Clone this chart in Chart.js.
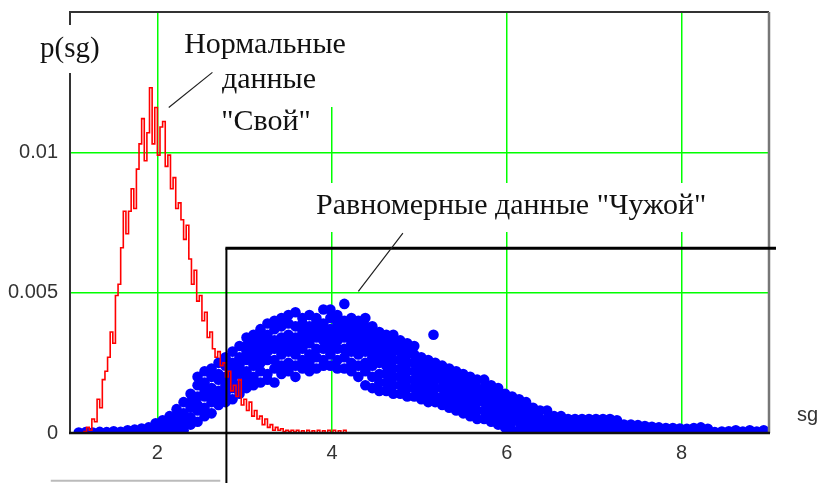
<!DOCTYPE html>
<html>
<head>
<meta charset="utf-8">
<script src="https://cdn.jsdelivr.net/npm/chart.js@4"></script>
<style>
  html, body { margin: 0; padding: 0; background: #fff; }
  #wrap { width: 820px; height: 483px; }
</style>
</head>
<body>
<div id="wrap"><canvas id="sgChart" width="820" height="483"></canvas></div>
<script>
// ticks
const xTicks = [2, 4, 6, 8];
const yTicks = [0, 0.005, 0.01];
const yTickLabels = ['0', '0.005', '0.01'];

// "Свой" - normal data (red line)
const redX = [
  1.10, 1.13, 1.16, 1.19, 1.22, 1.25, 1.28, 1.31, 1.34, 1.37, 1.40, 1.43, 1.46, 1.49, 1.52,
  1.55, 1.58, 1.61, 1.64, 1.67, 1.70, 1.73, 1.76, 1.79, 1.82, 1.85, 1.88, 1.91, 1.94, 1.97,
  2.00, 2.03, 2.06, 2.09, 2.12, 2.15, 2.18, 2.21, 2.24, 2.27, 2.30, 2.33, 2.36, 2.39, 2.42,
  2.45, 2.48, 2.51, 2.54, 2.57, 2.60, 2.63, 2.66, 2.69, 2.72, 2.75, 2.78, 2.81, 2.84, 2.87,
  2.90, 2.93, 2.96, 2.99, 3.02, 3.05, 3.08, 3.11, 3.14, 3.17, 3.20, 3.23, 3.26, 3.29, 3.32,
  3.35, 3.38, 3.41, 3.44, 3.47, 3.50, 3.53, 3.56, 3.59, 3.62, 3.65, 3.68, 3.71, 3.74, 3.77,
  3.80, 3.83, 3.86, 3.89, 3.92, 3.95, 3.98, 4.01, 4.04, 4.07, 4.10, 4.13, 4.16
];
const redY = [
  0, 0, 0.00005, 0.0002, 0.0001, 0.0005, 0.0004, 0.0012, 0.0009, 0.0019, 0.0022, 0.0027, 0.0036, 0.0032, 0.0049,
  0.0053, 0.0066, 0.0079, 0.0071, 0.0079, 0.0087, 0.0080, 0.0094, 0.0103, 0.0112, 0.0097, 0.0107, 0.0123, 0.0103, 0.0116,
  0.0099, 0.0109, 0.0111, 0.0095, 0.0099, 0.0087, 0.0091, 0.0080, 0.0082, 0.0076, 0.0069, 0.0074, 0.0062, 0.0053, 0.0058,
  0.0047, 0.0049, 0.0040, 0.0043, 0.0034, 0.0036, 0.0030, 0.0027, 0.0029, 0.0024, 0.0025, 0.0020, 0.0022, 0.0015, 0.0017,
  0.0013, 0.0019, 0.0010, 0.0012, 0.0008, 0.0011, 0.0006, 0.0008, 0.0005, 0.0006, 0.0003, 0.0005, 0.0002, 0.0003, 0.0001,
  0.0002, 0.0001, 0.00015, 0.00005, 0.0001, 0.00005, 0.0001, 0.00003, 0.0001, 0.00002, 0.00008, 0, 0.0001, 0.00002, 0.00008,
  0, 0.0001, 0, 0.00008, 0, 0.0001, 0, 0.0001, 0, 0.00008, 0, 0.0001, 0
];

// "Чужой" - uniform data (blue points), several values per x column
const blueX = [
  1.10, 1.18, 1.26, 1.34, 1.42, 1.50, 1.58, 1.66, 1.74, 1.82, 1.90, 1.98, 2.06, 2.14, 2.22,
  2.30, 2.38, 2.46, 2.54, 2.62, 2.70, 2.78, 2.86, 2.94, 3.02, 3.10, 3.18, 3.26, 3.34, 3.42,
  3.50, 3.58, 3.66, 3.74, 3.82, 3.90, 3.98, 4.06, 4.14, 4.22, 4.30, 4.38, 4.46, 4.54, 4.62,
  4.70, 4.78, 4.86, 4.94, 5.02, 5.10, 5.16, 5.18, 5.26, 5.34, 5.42, 5.50, 5.58, 5.66, 5.74,
  5.82, 5.90, 5.98, 6.06, 6.14, 6.22, 6.30, 6.38, 6.46, 6.54, 6.62, 6.70, 6.78, 6.86, 6.94,
  7.02, 7.10, 7.18, 7.26, 7.34, 7.42, 7.50, 7.58, 7.66, 7.74, 7.82, 7.90, 7.98, 8.06, 8.14,
  8.22, 8.30, 8.38, 8.46, 8.54, 8.62, 8.70, 8.78, 8.86, 8.94
];
const blueY = [
  [0.00002], [0.00003], [0.00002], [0.00004], [0.00003], [0.00006], [0.00004], [0.0001],
  [0.00005, 0.00012], [0.00008, 0.00016], [0.00004, 0.0002], [0.0001, 0.00035],
  [0.00005, 0.0003, 0.00045], [0.0001, 0.0004, 0.0006], [0.00005, 0.0003, 0.0006, 0.00085],
  [0.0001, 0.0004, 0.0007, 0.0011],
  [0.0003, 0.00055, 0.0009, 0.0011, 0.0014],
  [0.0004, 0.0008, 0.001, 0.0013, 0.0017, 0.002],
  [0.0006, 0.0009, 0.0013, 0.0015, 0.0018, 0.0022],
  [0.0007, 0.0011, 0.0013, 0.0016, 0.002, 0.0023],
  [0.001, 0.0012, 0.0015, 0.0019, 0.0021, 0.0025],
  [0.0011, 0.0014, 0.0017, 0.002, 0.0024, 0.0027],
  [0.0012, 0.0016, 0.0019, 0.0022, 0.0025, 0.0029],
  [0.0014, 0.0017, 0.0021, 0.0024, 0.0027, 0.0031],
  [0.0016, 0.0019, 0.0022, 0.0026, 0.0029, 0.0031, 0.0034],
  [0.0017, 0.002, 0.0024, 0.0027, 0.003, 0.0033, 0.0035],
  [0.0018, 0.0022, 0.0025, 0.0028, 0.0031, 0.0034, 0.0037],
  [0.0019, 0.0021, 0.0026, 0.0029, 0.0032, 0.0035, 0.0039],
  [0.0018, 0.0023, 0.0026, 0.003, 0.0033, 0.0037, 0.004],
  [0.0021, 0.0024, 0.0028, 0.0031, 0.0034, 0.0038, 0.0041],
  [0.0022, 0.0025, 0.0029, 0.0032, 0.0035, 0.0039, 0.0042],
  [0.002, 0.0024, 0.0028, 0.0031, 0.0034, 0.0038, 0.0043],
  [0.0023, 0.0026, 0.003, 0.0033, 0.0036, 0.0039, 0.0041],
  [0.0022, 0.0025, 0.0028, 0.0032, 0.0035, 0.0038, 0.0042],
  [0.0023, 0.0027, 0.003, 0.0034, 0.0037, 0.004, 0.0041],
  [0.0024, 0.0026, 0.003, 0.0033, 0.0036, 0.0039, 0.0044],
  [0.0024, 0.0028, 0.0031, 0.0034, 0.0037, 0.0041, 0.0044],
  [0.0023, 0.0026, 0.003, 0.0033, 0.0036, 0.0039, 0.0042],
  [0.0023, 0.0027, 0.003, 0.0034, 0.0037, 0.004, 0.0046],
  [0.0022, 0.0025, 0.0029, 0.0032, 0.0035, 0.0038, 0.0041],
  [0.002, 0.0024, 0.0028, 0.0031, 0.0034, 0.0037, 0.004],
  [0.0017, 0.0022, 0.0025, 0.0029, 0.0032, 0.0035, 0.0038, 0.0041],
  [0.0016, 0.002, 0.0024, 0.0027, 0.003, 0.0033, 0.0036, 0.0038],
  [0.0015, 0.0018, 0.0021, 0.0025, 0.0028, 0.0031, 0.0034, 0.0036],
  [0.0015, 0.0018, 0.0021, 0.0024, 0.0027, 0.003, 0.0033, 0.0035],
  [0.0014, 0.0017, 0.002, 0.0023, 0.0026, 0.0029, 0.0032, 0.0035],
  [0.0014, 0.0017, 0.002, 0.0023, 0.0026, 0.0029, 0.0031, 0.0033],
  [0.0013, 0.0016, 0.0019, 0.0022, 0.0025, 0.0028, 0.003, 0.0032],
  [0.0013, 0.0016, 0.0019, 0.0022, 0.0025, 0.0028, 0.0031],
  [0.0012, 0.0015, 0.0018, 0.0021, 0.0024, 0.0027],
  [0.0011, 0.0014, 0.0017, 0.002, 0.0023, 0.0026],
  [0.0035],
  [0.0011, 0.0013, 0.0016, 0.0019, 0.0022, 0.0025],
  [0.001, 0.0013, 0.0016, 0.0019, 0.0021, 0.0024],
  [0.0009, 0.0012, 0.0015, 0.0018, 0.002, 0.0023],
  [0.0008, 0.0011, 0.0014, 0.0017, 0.0019, 0.0022],
  [0.0007, 0.001, 0.0013, 0.0016, 0.0018, 0.0021],
  [0.0006, 0.0009, 0.0012, 0.0015, 0.0017, 0.002],
  [0.0005, 0.0008, 0.0011, 0.0014, 0.0016, 0.0019],
  [0.0005, 0.0008, 0.0011, 0.0013, 0.0016, 0.0019],
  [0.0004, 0.0007, 0.001, 0.0012, 0.0015, 0.0017],
  [0.0003, 0.0006, 0.0009, 0.0011, 0.0014, 0.0016],
  [0.0002, 0.0005, 0.0008, 0.001, 0.0012, 0.0014],
  [0.0001, 0.0004, 0.0007, 0.0009, 0.0011, 0.0013],
  [0.0001, 0.0004, 0.0006, 0.0009, 0.0012],
  [0.00005, 0.0003, 0.0005, 0.0008, 0.0011],
  [0.00005, 0.0003, 0.0005, 0.0007, 0.0009],
  [0.00005, 0.0003, 0.0005, 0.0008],
  [0.00005, 0.0003, 0.0005, 0.0008],
  [0.00005, 0.00025, 0.00045, 0.0006], [0.00005, 0.00025, 0.00045, 0.0006], [0.00005, 0.00025, 0.0005],
  [0.00005, 0.00025, 0.0005], [0.00005, 0.00025, 0.0005], [0.00005, 0.00025, 0.0005],
  [0.00005, 0.00025, 0.0005], [0.00005, 0.00025, 0.0005], [0.00005, 0.00025, 0.0005],
  [0.00005, 0.00025, 0.00045],
  [0.00005, 0.0003], [0.00005, 0.0003], [0.00005, 0.00028], [0.00005, 0.00025],
  [0.00005, 0.00022], [0.00005, 0.0002], [0.00005, 0.00018], [0.00005, 0.00018],
  [0.00005, 0.00016], [0.00005, 0.00015], [0.00005, 0.00018], [0.00005, 0.0002],
  [0.00005, 0.00015], [0.00003], [0.00005], [0.00006], [0.00003, 0.0001], [0.00005],
  [0.00003, 0.0001], [0.00005], [0.00003, 0.0001]
];

// threshold marker lines (black) and leader lines to the labels
const markerX = 2.79;
const markerY = 0.00658;

const redData = redX.map((x, i) => ({x: x, y: redY[i]}));
const blueData = [];
blueX.forEach((x, i) => {
  blueY[i].forEach(y => blueData.push({x: x, y: y}));
});

const serif = '"Liberation Serif", "Times New Roman", serif';
const sans = '"Liberation Sans", Arial, sans-serif';

// white boxes behind the text blocks, they cover the grid
const labelBoxes = {
  id: 'labelBoxes',
  beforeDatasetsDraw(chart) {
    const ctx = chart.ctx;
    ctx.save();
    ctx.fillStyle = '#fff';
    ctx.fillRect(180, 13, 172, 94);
    ctx.fillRect(310, 183, 405, 49);
    ctx.restore();
  }
};

const overlay = {
  id: 'overlay',
  afterDatasetsDraw(chart) {
    const ctx = chart.ctx;
    const a = chart.chartArea;
    const xs = chart.scales.x, ys = chart.scales.y;
    const px = v => xs.getPixelForValue(v);
    const py = v => ys.getPixelForValue(v);

    ctx.save();
    // frame
    ctx.lineCap = 'butt';
    ctx.strokeStyle = '#333';
    ctx.lineWidth = 2;
    ctx.beginPath();
    ctx.moveTo(a.left - 1, a.top); ctx.lineTo(a.right, a.top);
    ctx.moveTo(a.left, a.top); ctx.lineTo(a.left, a.top + 13);
    ctx.moveTo(a.left, a.top + 61); ctx.lineTo(a.left, a.bottom);
    ctx.stroke();
    ctx.strokeStyle = '#777';
    ctx.lineWidth = 2.5;
    ctx.beginPath();
    ctx.moveTo(a.right, a.top); ctx.lineTo(a.right, a.bottom);
    ctx.stroke();
    ctx.strokeStyle = '#111';
    ctx.lineWidth = 2.5;
    ctx.beginPath();
    ctx.moveTo(a.left - 1, a.bottom); ctx.lineTo(a.right + 1, a.bottom);
    ctx.stroke();

    // marker lines
    ctx.strokeStyle = '#000';
    ctx.lineWidth = 2;
    ctx.beginPath();
    ctx.moveTo(px(markerX), chart.height);
    ctx.lineTo(px(markerX), py(markerY));
    ctx.stroke();
    ctx.lineWidth = 3;
    ctx.beginPath();
    ctx.moveTo(px(markerX) - 1, py(markerY));
    ctx.lineTo(px(9.08), py(markerY));
    ctx.stroke();
    ctx.strokeStyle = '#bbb';
    ctx.lineWidth = 2;
    ctx.beginPath();
    ctx.moveTo(px(0.78), py(-0.0017));
    ctx.lineTo(px(2.72), py(-0.0017));
    ctx.stroke();

    // leader lines
    ctx.strokeStyle = '#222';
    ctx.lineWidth = 1.2;
    ctx.beginPath();
    ctx.moveTo(px(2.13), py(0.0116)); ctx.lineTo(px(2.63), py(0.01285));
    ctx.moveTo(px(4.30), py(0.00505)); ctx.lineTo(px(4.81), py(0.00712));
    ctx.stroke();

    // texts
    ctx.fillStyle = '#111';
    ctx.textBaseline = 'alphabetic';
    ctx.font = '30px ' + serif;
    ctx.textAlign = 'center';
    ctx.fillText('Нормальные', 265, 53);
    ctx.fillText('данные', 269, 88);
    ctx.fillText('"Свой"', 266, 130);
    ctx.textAlign = 'left';
    ctx.fillText('Равномерные данные "Чужой"', 316, 214);
    ctx.font = '29px ' + serif;
    ctx.fillText('p(sg)', 40, 57);
    ctx.font = '20px ' + sans;
    ctx.fillStyle = '#333';
    ctx.fillText('sg', 797, 421);
    ctx.restore();
  }
};

new Chart(document.getElementById('sgChart').getContext('2d'), {
  type: 'scatter',
  data: {
    datasets: [{
      label: 'Свой',
      data: redData,
      showLine: true,
      stepped: true,
      borderColor: '#ff0000',
      borderWidth: 1.6,
      pointRadius: 0,
      clip: 0
    }, {
      label: 'Чужой',
      data: blueData,
      backgroundColor: '#0000ff',
      borderWidth: 0,
      pointRadius: 5.3,
      clip: 0
    }]
  },
  options: {
    responsive: false,
    animation: false,
    devicePixelRatio: 1,
    layout: {padding: {top: 12, right: 51, left: 0, bottom: 0}},
    plugins: {legend: {display: false}, tooltip: {enabled: false}},
    scales: {
      x: {
        type: 'linear', min: 1, max: 9,
        afterBuildTicks: s => { s.ticks = xTicks.map(v => ({value: v})); },
        afterFit: s => { s.height = 50; s.paddingLeft = 0; s.paddingRight = 0; },
        grid: {color: '#00ff00', lineWidth: 1.5, drawTicks: false},
        border: {display: false},
        ticks: {color: '#333', font: {family: sans, size: 20}, padding: 8}
      },
      y: {
        type: 'linear', min: 0, max: 0.015,
        afterBuildTicks: s => { s.ticks = yTicks.map(v => ({value: v})); },
        afterFit: s => { s.width = 70; s.paddingTop = 0; s.paddingBottom = 0; },
        grid: {color: '#00ff00', lineWidth: 1.5, drawTicks: false},
        border: {display: false},
        ticks: {
          color: '#333', font: {family: sans, size: 20}, padding: 12,
          callback: (v) => yTickLabels[yTicks.indexOf(v)]
        }
      }
    }
  },
  plugins: [labelBoxes, overlay]
});
</script>
</body>
</html>
